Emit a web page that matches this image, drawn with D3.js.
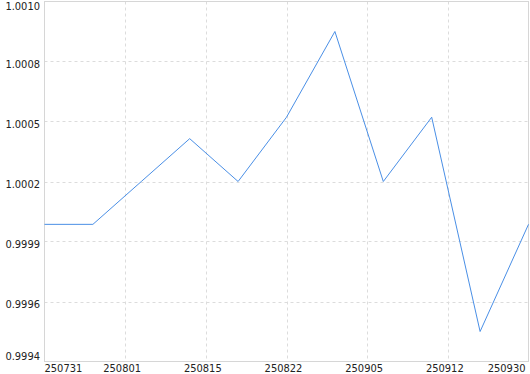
<!DOCTYPE html>
<html><head><meta charset="utf-8">
<script src="https://cdn.jsdelivr.net/npm/d3@7"></script>
<style>
html,body{margin:0;padding:0;background:#fff;}
text{font-family:"DejaVu Sans Condensed","DejaVu Sans",sans-serif;font-size:11px;fill:#222;}
</style></head>
<body><svg id="c" width="530" height="374"></svg>
<script>
// series values by category index (0..10)
const categoryIndex = [0,1,2,3,4,5,6,7,8,9,10];
const values = [1.0000,1.0000,1.0002,1.0004,1.0002,1.0005,1.0009,1.0002,1.0005,0.9995,1.0000];
// x tick labels, spread evenly across the axis
const xTickLabels = ["250731","250801","250815","250822","250905","250912","250930"];
// y ticks
const yTicks = [0.99936,0.99964,0.99992,1.00020,1.00048,1.00076,1.00104];

const m = {left:44.5, right:528.5, top:1.5, bottom:361.5};
const svg = d3.select("#c");
const x = d3.scaleLinear().domain([0,10]).range([m.left, m.right]);
const y = d3.scaleLinear().domain([yTicks[0], yTicks[yTicks.length-1]]).range([m.bottom, m.top]);
const xTickPos = xTickLabels.map((d,i)=> i*10/(xTickLabels.length-1));

// grid
const g = svg.append("g");
g.selectAll(".gy").data(yTicks.slice(1,-1)).join("line")
  .attr("x1",m.left).attr("x2",m.right)
  .attr("y1",d=>Math.round(y(d))+0.5).attr("y2",d=>Math.round(y(d))+0.5)
  .attr("stroke","#dcdcdc").attr("stroke-dasharray","3,3");
g.selectAll(".gx").data(xTickPos.slice(1,-1)).join("line")
  .attr("y1",m.top).attr("y2",m.bottom)
  .attr("x1",d=>Math.round(x(d))+0.5).attr("x2",d=>Math.round(x(d))+0.5)
  .attr("stroke","#dcdcdc").attr("stroke-dasharray","3,3");

// border
svg.append("rect").attr("x",m.left).attr("y",m.top)
  .attr("width",m.right-m.left).attr("height",m.bottom-m.top)
  .attr("fill","none").attr("stroke","#d6d6d6");

// line
const line = d3.line().x((d,i)=>x(categoryIndex[i])).y(d=>y(d));
svg.append("path").datum(values).attr("d",line)
  .attr("fill","none").attr("stroke","#4a8fe6").attr("stroke-width",1);

// y labels
const fmt = d3.format(".4f");
svg.selectAll(".yl").data(yTicks).join("text")
  .attr("x",40).attr("text-anchor","end")
  .attr("y",(d,i)=>{
    let p = y(d)+6;
    if(i===yTicks.length-1) p = 10;
    if(i===0) p = 360;
    return p;})
  .text(d=>fmt(d));

// x labels
svg.selectAll(".xl").data(xTickLabels).join("text")
  .attr("y",372)
  .attr("x",(d,i)=> i===0 ? m.left : (i===xTickLabels.length-1 ? m.right-3 : x(xTickPos[i])-3))
  .attr("text-anchor",(d,i)=> i===0 ? "start" : (i===xTickLabels.length-1 ? "end" : "middle"))
  .text(d=>d);
</script></body></html>
